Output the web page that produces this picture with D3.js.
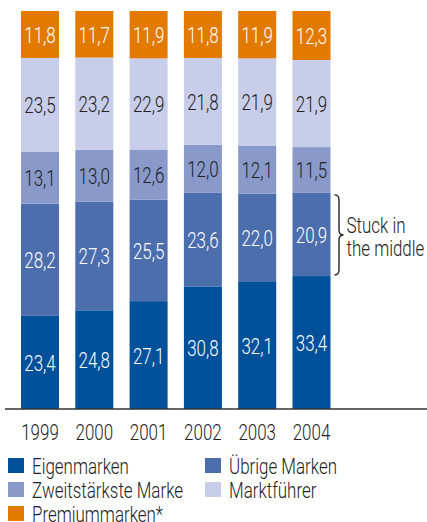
<!DOCTYPE html>
<html>
<head>
<meta charset="utf-8">
<script src="https://cdn.jsdelivr.net/npm/d3@7"></script>
<style>
  html, body { margin: 0; padding: 0; background: #fff; }
  svg { display: block; font-family: Roboto, "Liberation Sans", sans-serif; font-weight: 300; }
</style>
</head>
<body>
<svg id="chart" width="427" height="522"></svg>
<script>
// Market shares (%) per year, stacked bottom to top
const years = ["1999", "2000", "2001", "2002", "2003", "2004"];
const eigenmarken = [23.4, 24.8, 27.1, 30.8, 32.1, 33.4];
const uebrigeMarken = [28.2, 27.3, 25.5, 23.6, 22.0, 20.9];
const zweitstaerksteMarke = [13.1, 13.0, 12.6, 12.0, 12.1, 11.5];
const marktfuehrer = [23.5, 23.2, 22.9, 21.8, 21.9, 21.9];
const premiummarken = [11.8, 11.7, 11.9, 11.8, 11.9, 12.3];

const seriesNames = ["Eigenmarken", "Übrige Marken", "Zweitstärkste Marke", "Marktführer", "Premiummarken*"];
const seriesValues = [eigenmarken, uebrigeMarken, zweitstaerksteMarke, marktfuehrer, premiummarken];
const colors = ["#00509a", "#4d6ead", "#8899ca", "#c8cde9", "#e37a00"];
const labelColors = ["#ffffff", "#ffffff", "#222222", "#222222", "#ffffff"];

const bracketText = ["Stuck in", "the middle"];

// Narrow text: light face squeezed horizontally
const FONT_SIZE = 22;
const SQUEEZE = 0.77;
const place = (px, py) => `translate(${px},${py}) scale(${SQUEEZE},1)`;

const svg = d3.select("#chart");

const rows = years.map((yr, i) => {
  const r = { year: yr };
  seriesNames.forEach((s, k) => { r[s] = seriesValues[k][i]; });
  return r;
});

const stacked = d3.stack().keys(seriesNames)(rows);

const x = d3.scaleBand().domain(years).range([21, 330.5]).paddingInner(0.3).paddingOuter(0);
const y = d3.scaleLinear().domain([0, 100]).range([409, 11]);

const fmt = d3.formatLocale({ decimal: ",", thousands: ".", grouping: [3], currency: ["", " €"] }).format(".1f");

// Bars
const layers = svg.append("g").selectAll("g")
  .data(stacked)
  .join("g")
  .attr("fill", (d, i) => colors[i]);

layers.selectAll("rect")
  .data(d => d)
  .join("rect")
  .attr("x", d => x(d.data.year))
  .attr("width", x.bandwidth())
  .attr("y", d => y(d[1]))
  .attr("height", d => y(d[0]) - y(d[1]));

// Value labels
const labels = svg.append("g").attr("font-size", FONT_SIZE).attr("text-anchor", "middle");
stacked.forEach((layer, i) => {
  labels.append("g").attr("fill", labelColors[i])
    .selectAll("text")
    .data(layer)
    .join("text")
    .attr("transform", d => place(x(d.data.year) + x.bandwidth() / 2, (y(d[0]) + y(d[1])) / 2 + 0.5))
    .attr("dy", "0.36em")
    .text(d => fmt(d[1] - d[0]));
});

// Baseline
svg.append("line")
  .attr("x1", 5).attr("x2", 427)
  .attr("y1", y(0)).attr("y2", y(0))
  .attr("stroke", "#333").attr("stroke-width", 1.5);

// Year axis
const xAxis = svg.append("g")
  .attr("transform", `translate(0,${y(0)})`)
  .call(d3.axisBottom(x).tickSize(0).tickPadding(15.5))
  .attr("font-family", null)
  .attr("font-size", FONT_SIZE);
xAxis.select(".domain").remove();
xAxis.selectAll("text")
  .attr("fill", "#222")
  .attr("transform", `scale(${SQUEEZE},1)`);

// Brace around the 2004 "Übrige Marken" segment
const last = years.length - 1;
const seg = stacked[1][last];
const bx = x(years[last]) + x.bandwidth() + 4;
const braceTop = y(seg[1]) + 2, braceBot = y(seg[0]) - 1, braceMid = (braceTop + braceBot) / 2;
const bw = 4.5;
svg.append("path")
  .attr("fill", "none")
  .attr("stroke", "#222")
  .attr("stroke-width", 1.4)
  .attr("d", `M${bx},${braceTop} Q${bx + bw},${braceTop} ${bx + bw},${braceTop + 5}
              L${bx + bw},${braceMid - 5} Q${bx + bw},${braceMid} ${bx + bw * 2},${braceMid}
              Q${bx + bw},${braceMid} ${bx + bw},${braceMid + 5}
              L${bx + bw},${braceBot - 5} Q${bx + bw},${braceBot} ${bx},${braceBot}`);

svg.append("g").attr("font-size", FONT_SIZE).attr("fill", "#222")
  .selectAll("text")
  .data(bracketText)
  .join("text")
  .attr("transform", (d, i) => place(bx + bw * 2 + 3, braceMid - 2 + i * 23.5))
  .text(d => d);

// Legend
const legendPos = [[8, 458], [205, 458], [8, 482], [205, 482], [8, 506]];
const legend = svg.append("g").attr("font-size", FONT_SIZE).attr("fill", "#222");
seriesNames.forEach((name, i) => {
  const [lx, ly] = legendPos[i];
  legend.append("rect")
    .attr("x", lx).attr("y", ly)
    .attr("width", 16).attr("height", 15)
    .attr("fill", colors[i]);
  legend.append("text")
    .attr("transform", place(lx + 24, ly + 16))
    .text(name);
});
</script>
</body>
</html>
